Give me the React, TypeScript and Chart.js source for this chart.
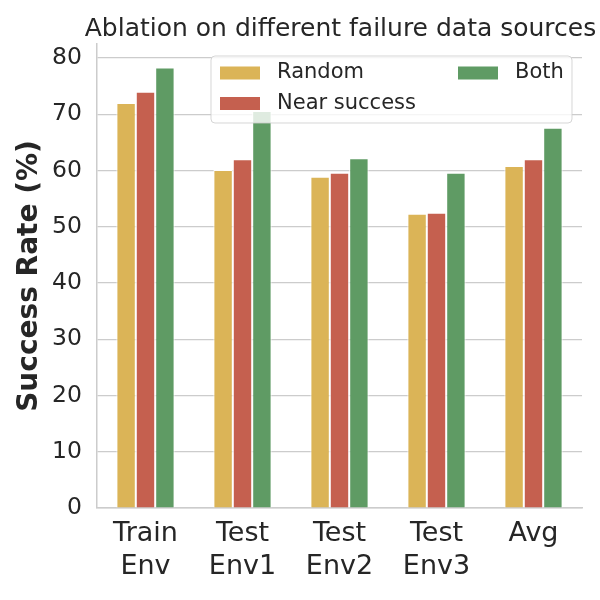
import React, { useEffect, useRef } from 'react';
import { Chart, registerables } from 'chart.js';

Chart.register(...registerables);

const categories: (string | string[])[] = [['Train', 'Env'], ['Test', 'Env1'], ['Test', 'Env2'], ['Test', 'Env3'], ['Avg']];
const seriesNames = ['Random', 'Near success', 'Both'];
const randomValues = [72.0, 60.1, 58.9, 52.3, 60.8];
const nearSuccessValues = [74.0, 62.0, 59.6, 52.5, 62.0];
const bothValues = [78.3, 70.6, 62.2, 59.6, 67.6];
const yTickValues = [0, 10, 20, 30, 40, 50, 60, 70, 80];
const seriesColors = ['#dbb457', '#c5604f', '#5f9b64'];

const FONT = '"DejaVu Sans", sans-serif';
const TEXT = '#262626';

const titlePlugin = {
  id: 'customTitle',
  afterDraw(chart: any) {
    const { ctx, chartArea } = chart;
    ctx.save();
    ctx.fillStyle = TEXT;
    ctx.font = `25px ${FONT}`;
    ctx.textAlign = 'center';
    ctx.textBaseline = 'middle';
    ctx.fillText('Ablation on different failure data sources', (chartArea.left + chartArea.right) / 2 + 1, 29);
    ctx.restore();
  },
};

const legendPlugin = {
  id: 'customLegend',
  afterDraw(chart: any) {
    const { ctx } = chart;
    ctx.save();
    const x = 211, y = 56, w = 361, h = 67, r = 4;
    ctx.beginPath();
    ctx.moveTo(x + r, y);
    ctx.lineTo(x + w - r, y);
    ctx.quadraticCurveTo(x + w, y, x + w, y + r);
    ctx.lineTo(x + w, y + h - r);
    ctx.quadraticCurveTo(x + w, y + h, x + w - r, y + h);
    ctx.lineTo(x + r, y + h);
    ctx.quadraticCurveTo(x, y + h, x, y + h - r);
    ctx.lineTo(x, y + r);
    ctx.quadraticCurveTo(x, y, x + r, y);
    ctx.closePath();
    ctx.fillStyle = 'rgba(255,255,255,0.8)';
    ctx.fill();
    ctx.strokeStyle = 'rgba(204,204,204,0.8)';
    ctx.lineWidth = 1;
    ctx.stroke();
    const items = [
      { px: 220, ty: 73, tx: 277 },
      { px: 220, ty: 103.5, tx: 277 },
      { px: 458, ty: 73, tx: 515 },
    ];
    ctx.font = `21px ${FONT}`;
    ctx.textBaseline = 'middle';
    ctx.textAlign = 'left';
    items.forEach((it, i) => {
      ctx.fillStyle = seriesColors[i];
      ctx.fillRect(it.px, it.ty - 6.5, 40, 13);
      ctx.fillStyle = TEXT;
      ctx.fillText(seriesNames[i], it.tx, it.ty);
    });
    ctx.restore();
  },
};

export default function App() {
  const ref = useRef<HTMLCanvasElement>(null);
  useEffect(() => {
    if (!ref.current) return;
    const valuesList = [randomValues, nearSuccessValues, bothValues];
    const chart = new Chart(ref.current, {
      type: 'bar',
      data: {
        labels: categories,
        datasets: seriesNames.map((name, i) => ({
          label: name,
          data: valuesList[i],
          backgroundColor: seriesColors[i],
          borderColor: '#ffffff',
          borderWidth: 1,
          categoryPercentage: 0.6,
          barPercentage: 1.0,
        })),
      },
      options: {
        responsive: false,
        animation: false,
        devicePixelRatio: 1,
        layout: { padding: { top: 44, right: 18, left: 0, bottom: 0 } },
        plugins: {
          legend: { display: false },
          title: { display: false },
          tooltip: { enabled: false },
        },
        scales: {
          x: {
            grid: { display: false },
            border: { display: true, color: '#cccccc', width: 1.5 },
            ticks: { color: TEXT, font: { family: FONT, size: 27, lineHeight: 1.22 }, padding: 2, maxRotation: 0 },
            afterFit: (s: any) => { s.height = 92; },
          },
          y: {
            min: 0,
            max: 82.5,
            afterBuildTicks: (s: any) => { s.ticks = yTickValues.map((v) => ({ value: v })); },
            grid: { color: '#cccccc', lineWidth: 1.2, drawTicks: false },
            border: { display: true, color: '#cccccc', width: 1.5 },
            ticks: { color: TEXT, font: { family: FONT, size: 23.5 }, padding: 15 },
            title: {
              display: true,
              text: 'Success Rate (%)',
              color: TEXT,
              font: { family: FONT, size: 28, weight: 'bold' },
              padding: { top: 13, bottom: 0 },
            },
            afterFit: (s: any) => { s.width = 97; },
          },
        },
      },
      plugins: [titlePlugin, legendPlugin],
    });
    return () => chart.destroy();
  }, []);
  return (
    <div style={{ position: 'absolute', left: 0, top: 0, width: 600, height: 600, background: '#fff' }}>
      <canvas ref={ref} width={600} height={600} />
    </div>
  );
}
